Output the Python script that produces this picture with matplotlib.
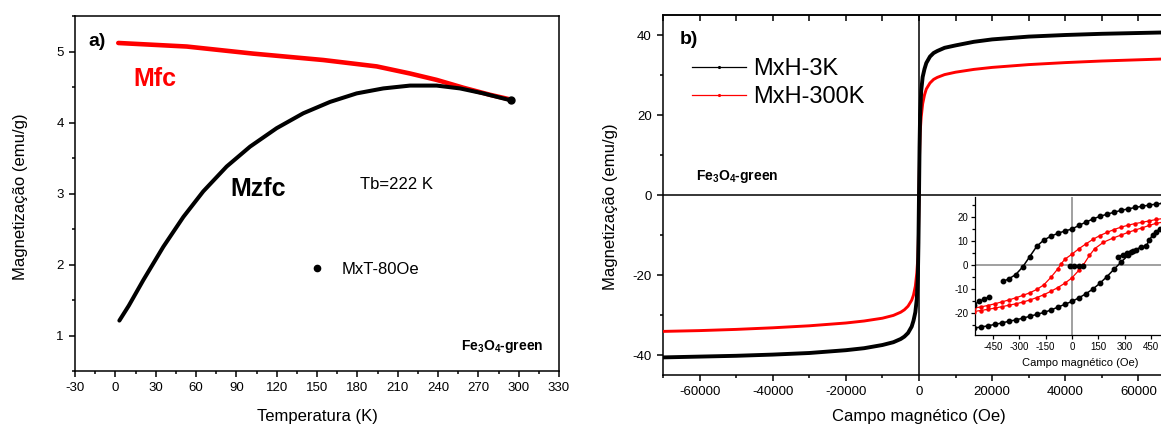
import matplotlib
matplotlib.use("Agg")
import matplotlib.pyplot as plt
from matplotlib.lines import Line2D
from matplotlib.ticker import MultipleLocator, FixedLocator

plt.rcParams['font.family'] = ['Liberation Sans', 'DejaVu Sans']
plt.rcParams['mathtext.fontset'] = 'custom'
plt.rcParams['mathtext.rm'] = 'Liberation Sans'
plt.rcParams['mathtext.bf'] = 'Liberation Sans:bold'
plt.rcParams['axes.unicode_minus'] = False

# ---------------- Panel a data: M vs T ----------------
T_zfc = [3.0, 10, 20.8, 35.7, 50.6, 65.4, 82.8, 100.2, 120, 139.8, 159.7, 179.5, 199.3, 219.2, 239, 256.4, 273.7, 294.6]
M_zfc = [1.21, 1.42, 1.78, 2.25, 2.67, 3.03, 3.38, 3.66, 3.92, 4.13, 4.29, 4.41, 4.48, 4.52, 4.52, 4.48, 4.41, 4.31]
T_fc = [2.2, 53.1, 102.6, 154.7, 194.4, 219.2, 239, 258.8, 278.7, 294.8]
M_fc = [5.12, 5.07, 4.97, 4.88, 4.79, 4.69, 4.60, 4.49, 4.39, 4.32]

# ---------------- Panel b data: M vs H ----------------
H_main = [-70000, -60000, -50000, -40000, -30000, -20000, -15000, -10000, -7000, -5000, -4000,
          -3000, -2000, -1500, -1000, -600, -300, -150, 0, 150, 300, 600, 1000, 1500, 2000,
          3000, 4000, 5000, 7000, 10000, 15000, 20000, 30000, 40000, 50000, 60000, 70000]
M_3K = [-40.6, -40.4, -40.2, -39.9, -39.5, -38.8, -38.3, -37.5, -36.8, -36.0, -35.4,
        -34.5, -32.9, -31.4, -29.3, -26.0, -20.0, -12.0, 0.0, 12.0, 20.0, 26.0, 29.5, 31.5, 33.0,
        34.6, 35.5, 36.0, 36.8, 37.4, 38.3, 38.9, 39.6, 40.0, 40.3, 40.5, 40.7]
M_300K = [-34.1, -33.9, -33.6, -33.2, -32.7, -32.0, -31.5, -30.8, -30.1, -29.3, -28.7,
          -27.8, -26.3, -25.0, -22.8, -19.5, -15.5, -10.0, 0.0, 10.0, 15.5, 19.5, 22.8, 25.0, 26.5,
          28.0, 28.9, 29.4, 30.1, 30.7, 31.4, 31.9, 32.6, 33.1, 33.5, 33.8, 34.1]

# inset: low-field loops
H_3K_desc = [600, 560, 520, 480, 440, 400, 360, 320, 280, 240, 200, 160, 120, 80, 40, 0,
             -40, -80, -120, -160, -200, -240, -280, -320, -360, -390]
M_3K_desc = [26.4, 26.1, 25.8, 25.4, 25.0, 24.5, 24.0, 23.4, 22.8, 22.0, 21.2, 20.3, 19.2, 17.9, 16.5, 15.0,
             14.2, 13.2, 12.0, 10.4, 7.8, 3.5, -0.8, -4.0, -5.8, -6.8]
H_3K_frag1 = [-555, -530, -500, -470]
M_3K_frag1 = [-16.5, -15.2, -14.3, -13.2]
H_3K_asc = [-560, -520, -480, -440, -400, -360, -320, -280, -240, -200, -160, -120, -80, -40, 0,
            40, 80, 120, 160, 200, 240, 280, 320, 350]
M_3K_asc = [-26.3, -25.9, -25.4, -24.8, -24.2, -23.5, -22.9, -22.2, -21.4, -20.6, -19.8, -18.8, -17.6, -16.4, -15.2,
            -13.7, -12.0, -10.0, -7.6, -4.8, -1.8, 1.2, 4.0, 5.7]
H_3K_frag2 = [265, 290, 315, 339, 365, 395, 423, 441, 460, 479, 500]
M_3K_frag2 = [3.5, 4.2, 4.9, 5.6, 6.4, 7.6, 7.9, 10.4, 12.5, 13.9, 15.0]
H_3K_frag3 = [-10, 15, 40, 65]
M_3K_frag3 = [-0.5, -0.6, -0.5, -0.6]

H_300K_desc = [600, 560, 520, 480, 440, 400, 360, 320, 280, 240, 200, 160, 120, 80, 40, 0,
               -40, -60, -80, -120, -160, -200, -240, -280, -320, -360, -400, -440, -480, -520, -560]
M_300K_desc = [20.2, 19.8, 19.4, 19.0, 18.4, 17.8, 17.3, 16.6, 15.8, 14.8, 13.6, 12.3, 10.7, 8.8, 6.8, 4.5,
               2.4, 0.6, -1.6, -5.2, -8.3, -10.2, -11.6, -12.7, -13.7, -14.6, -15.4, -16.2, -16.9, -17.5, -18.0]
H_300K_asc = [-560, -520, -480, -440, -400, -360, -320, -280, -240, -200, -160, -120, -80, -40, 0,
              40, 65, 100, 130, 180, 233, 280, 320, 360, 400, 440, 480, 520, 560, 600]
M_300K_asc = [-19.4, -19.0, -18.5, -18.0, -17.4, -16.8, -16.2, -15.5, -14.6, -13.6, -12.4, -11.0, -9.4, -7.6, -5.4,
              -2.2, 0.0, 4.0, 6.8, 9.5, 11.2, 12.5, 13.6, 14.6, 15.5, 16.5, 17.4, 17.9, 18.3, 18.7]
inset_xticks = [-450, -300, -150, 0, 150, 300, 450]

W, H = 1161, 425
fig = plt.figure(figsize=(W / 100, H / 100), dpi=100)

def frac(l, t, r, b):
    return [l / W, (H - b) / H, (r - l) / W, (b - t) / H]

RED = '#ff0000'

# ================= Panel a =================
axa = fig.add_axes(frac(75, 16, 559, 371))
axa.plot(T_fc, M_fc, color=RED, lw=3.3, solid_capstyle='round', solid_joinstyle='round')
axa.plot(T_zfc, M_zfc, color='black', lw=2.9, solid_capstyle='round', solid_joinstyle='round')
axa.plot([T_zfc[-1]], [M_zfc[-1]], 'o', color='black', ms=5, ls='none')
axa.set_xlim(-30, 330)
axa.set_ylim(0.5, 5.5)
axa.xaxis.set_major_locator(MultipleLocator(30))
axa.xaxis.set_minor_locator(MultipleLocator(15))
axa.yaxis.set_major_locator(MultipleLocator(1))
axa.yaxis.set_minor_locator(MultipleLocator(0.5))
axa.tick_params(which='both', direction='out', top=False, right=False, labelsize=9.5, width=1.1)
axa.tick_params(which='major', length=4.5)
axa.tick_params(which='minor', length=2.5)
for s in axa.spines.values():
    s.set_linewidth(1.1)

axa.text(-20, 5.135, 'a)', fontsize=14, fontweight='bold', va='center', ha='left')
axa.text(13.4, 4.61, 'Mfc', fontsize=18, fontweight='bold', color=RED, va='center', ha='left')
axa.text(85.8, 3.07, 'Mzfc', fontsize=18, fontweight='bold', color='black', va='center', ha='left')
axa.text(182, 3.13, 'Tb=222 K', fontsize=12, va='center', ha='left')
axa.text(257, 0.845, r'Fe$_\mathbf{3}$O$_\mathbf{4}$-green', fontsize=10, fontweight='bold',
         va='center', ha='left')
axa.legend([Line2D([], [], marker='o', color='black', ls='none', ms=4.5)], ['MxT-80Oe'],
           loc='center left', bbox_to_anchor=(0.483, 0.286), frameon=False, fontsize=12,
           handlelength=1.0, handletextpad=0.95, borderpad=0, borderaxespad=0)
fig.text(21 / W, 1 - 197 / H, 'Magnetização (emu/g)', rotation=90, fontsize=12, ha='center', va='center')
fig.text(317 / W, 1 - 416 / H, 'Temperatura (K)', fontsize=12, ha='center', va='center')

# ================= Panel b =================
axb = fig.add_axes(frac(663, 15, 1175, 375))
axb.axvline(0, color='black', lw=1.1, zorder=1)
axb.axhline(0, color='black', lw=1.1, zorder=1)
axb.plot(H_main, M_300K, color=RED, lw=2.1, zorder=3, solid_joinstyle='round')
axb.plot(H_main, M_3K, color='black', lw=2.8, zorder=3, solid_joinstyle='round')
axb.set_xlim(-70000, 70000)
axb.set_ylim(-45, 45)
axb.xaxis.set_major_locator(MultipleLocator(20000))
axb.xaxis.set_minor_locator(MultipleLocator(10000))
axb.yaxis.set_major_locator(MultipleLocator(20))
axb.yaxis.set_minor_locator(MultipleLocator(10))
axb.tick_params(which='both', direction='out', top=False, right=False, labelsize=9.5, width=1.1)
axb.tick_params(which='major', length=4.5)
axb.tick_params(which='minor', length=2.5)
for s in axb.spines.values():
    s.set_linewidth(1.1)
secb = axb.secondary_xaxis('top')
secb.xaxis.set_major_locator(MultipleLocator(10000))
secb.tick_params(direction='in', length=4, width=1.1, labeltop=False)
secb.spines['top'].set_linewidth(1.1)

axb.text(-65400, 39, 'b)', fontsize=14, fontweight='bold', va='center', ha='left')
axb.text(-61000, 4.65, r'Fe$_\mathbf{3}$O$_\mathbf{4}$-green', fontsize=10, fontweight='bold',
         va='center', ha='left')
handles = [Line2D([], [], color='black', lw=0.9, marker='.', ms=2.5),
           Line2D([], [], color=RED, lw=0.9, marker='.', ms=2.5)]
axb.legend(handles, ['MxH-3K', 'MxH-300K'], loc='upper left', bbox_to_anchor=(0.0566, 0.881),
           frameon=False, fontsize=17, handlelength=2.3, handletextpad=0.3, labelspacing=0.27,
           borderpad=0, borderaxespad=0)
fig.text(611 / W, 1 - 207 / H, 'Magnetização (emu/g)', rotation=90, fontsize=12, ha='center', va='center')
fig.text(919 / W, 1 - 416 / H, 'Campo magnético (Oe)', fontsize=12, ha='center', va='center')

# ================= Inset =================
axi = fig.add_axes(frac(975.3, 196.7, 1181.6, 335))
axi.axvline(0, color='#999999', lw=1.3, zorder=1)
axi.axhline(0, color='#999999', lw=1.3, zorder=1)
kb = dict(color='black', lw=1.1, marker='o', ms=3.2, zorder=3)
kr = dict(color=RED, lw=0.9, marker='o', ms=2.2, zorder=3)
axi.plot(H_300K_desc, M_300K_desc, **kr)
axi.plot(H_300K_asc, M_300K_asc, **kr)
axi.plot(H_3K_desc, M_3K_desc, **kb)
axi.plot(H_3K_frag1, M_3K_frag1, **kb)
axi.plot(H_3K_asc, M_3K_asc, **kb)
axi.plot(H_3K_frag2, M_3K_frag2, **kb)
axi.plot(H_3K_frag3, M_3K_frag3, **kb)
axi.set_xlim(-550, 625)
axi.set_ylim(-29.2, 28.5)
axi.xaxis.set_major_locator(FixedLocator(inset_xticks))
axi.yaxis.set_major_locator(MultipleLocator(10))
axi.yaxis.set_minor_locator(MultipleLocator(5))
axi.tick_params(which='both', direction='out', top=False, right=False, labelsize=7, width=0.9, pad=2)
axi.tick_params(which='major', length=3)
axi.tick_params(which='minor', length=2)
for s in axi.spines.values():
    s.set_linewidth(0.9)
axi.spines['top'].set_visible(False)
axi.spines['right'].set_visible(False)
fig.text(1080 / W, 1 - 363 / H, 'Campo magnético (Oe)', fontsize=8, ha='center', va='center')

fig.savefig('out.png', dpi=100)
